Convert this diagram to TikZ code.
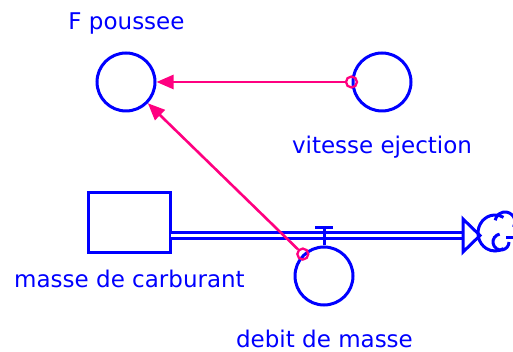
\documentclass[tikz,border=0pt]{standalone}
\usepackage{fontspec}
\setmainfont{DejaVu Sans}
\usetikzlibrary{arrows.meta}
\definecolor{sdblue}{RGB}{0,0,255}
\definecolor{sdpink}{RGB}{255,0,128}

\begin{document}
\begin{tikzpicture}[x=1pt,y=-1pt,
  aux/.style={draw=sdblue, circle, line width=3pt, minimum size=58pt, inner sep=0pt},
  stock/.style={draw=sdblue, rectangle, line width=3pt, minimum width=82pt, minimum height=60pt, inner sep=0pt},
  varname/.style={text=sdblue, anchor=base, inner sep=0pt, font=\fontsize{23}{27}\selectfont},
  origin/.style={draw=sdpink, circle, line width=2.3pt, minimum size=11pt, inner sep=0pt},
  link/.style={draw=sdpink, line width=2.6pt, -{Triangle[length=17pt,width=14pt]}},
  flow/.style={draw=sdblue, line width=2.6pt, double=white, double distance=3pt},
  blue line/.style={draw=sdblue, line width=3pt}]
\useasboundingbox (0,0) rectangle (513,352);

% variables and stock
\node[aux] (fpoussee) at (126,82) {};
\node[aux] (vitesse) at (382,82) {};
\node[stock] (masse) at (129,223) {};
\node[aux] (debit) at (324,276) {};

\node[varname] (fpoussee-txt) at (126.5,30) {F poussee};
\node[varname] (vitesse-txt) at (382,154) {vitesse ejection};
\node[varname] (masse-txt) at (129.5,287) {masse de carburant};
\node[varname] (debit-txt) at (324.5,347) {debit de masse};

% sink cloud
\path[blue line] (495,233) ++(-60:17 and 18) arc[start angle=-60, end angle=-300, x radius=17, y radius=18];
\path[blue line] (505,222) ++(-170:10) arc[start angle=-170, end angle=30, radius=10];
\path[blue line] (501,242) ++(-100:8) arc[start angle=-100, end angle=-360, radius=8];
\path[blue line] (506,238) -- (513,238);

% outflow pipe
\coordinate (pipe0) at (171,235.5);
\coordinate (pipe1) at (463,235.5);
\path[flow] (pipe0) -- (pipe1);
\path[blue line, line join=miter] (463,219) -- (480,235.5) -- (463,252) -- cycle;

% valve
\coordinate (valvetop) at (324,228);
\path[blue line] (debit.north) -- (valvetop);
\path[blue line] (315,228) -- (333,228);

% links
\node[origin] (o-vitesse) at (vitesse.west) {};
\node[origin] (o-debit) at (debit.134) {};
\path[link] (o-vitesse) -- (fpoussee);
\path[link] (o-debit) -- (fpoussee);
\end{tikzpicture}
\end{document}
